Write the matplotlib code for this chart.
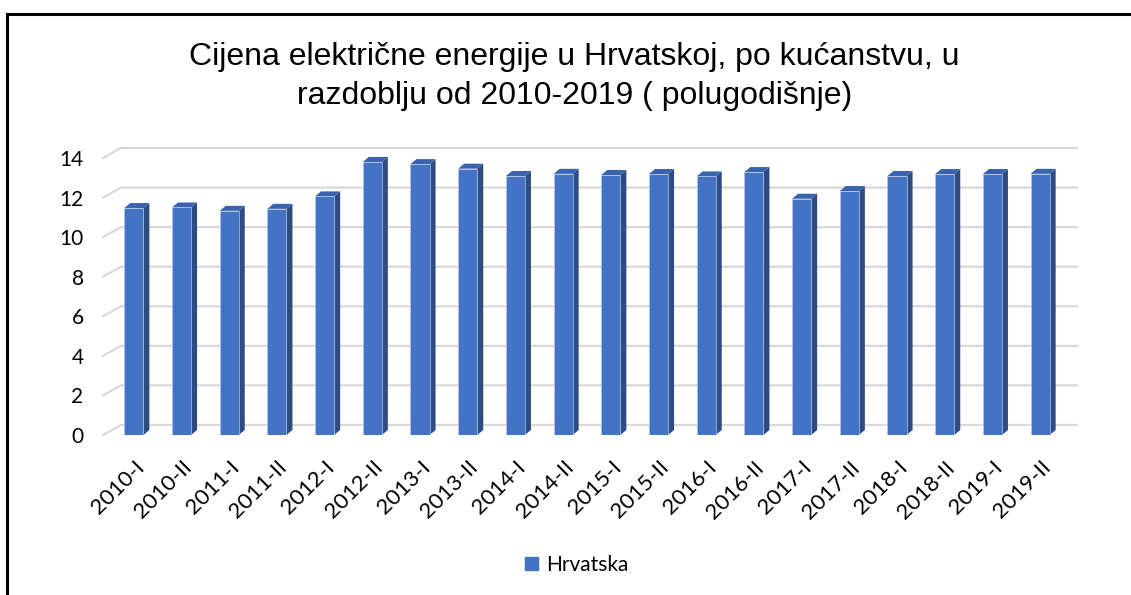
import matplotlib
matplotlib.use('Agg')
import matplotlib.pyplot as plt
from matplotlib.patches import Polygon, Patch
from matplotlib.lines import Line2D

# data (EUR cent / kWh)
periods = ['2010-I', '2010-II', '2011-I', '2011-II', '2012-I', '2012-II',
           '2013-I', '2013-II', '2014-I', '2014-II', '2015-I', '2015-II',
           '2016-I', '2016-II', '2017-I', '2017-II', '2018-I', '2018-II',
           '2019-I', '2019-II']
cijena = [11.47, 11.50, 11.33, 11.43, 12.06, 13.80, 13.69, 13.46, 13.09, 13.20,
          13.14, 13.19, 13.07, 13.29, 11.94, 12.33, 13.09, 13.19, 13.19, 13.20]
yticks = [0, 2, 4, 6, 8, 10, 12, 14]

front = '#4472C4'
side = '#2E4B82'
top = '#3A63AD'
grid = '#D9D9D9'

W, H = 1131, 595
fig = plt.figure(figsize=(W / 100, H / 100), dpi=100)

# plot area in pixels
x0_px, y0_px, y14_px = 103, 435, 158
step_px = 47.7
xmin, xmax = -0.646, 19.4
ax = fig.add_axes([x0_px / W, (H - y0_px) / H,
                   (xmax - xmin) * step_px / W, (y0_px - y14_px) / H])
ax.set_xlim(xmin, xmax)
ax.set_ylim(0, 14)
px_y = 14 / (y0_px - y14_px)

# fake 3D depth (bar and floor/back wall)
bw = 0.4
bdx, bdy = 6 / step_px, 5 * px_y
gdx, gdy = 18 / step_px, 10 * px_y

for t in yticks:
    ax.add_line(Line2D([xmin, xmin + gdx, xmax + gdx], [t, t + gdy, t + gdy],
                       color=grid, lw=1.6, clip_on=False, zorder=1))

x = list(range(len(periods)))
ax.bar(x, cijena, width=bw, color=front, edgecolor='#B4C7E7', linewidth=0.5, zorder=3)
for i, v in zip(x, cijena):
    xl, xr = i - bw / 2, i + bw / 2
    ax.add_patch(Polygon([(xr, 0), (xr, v), (xr + bdx, v + bdy), (xr + bdx, bdy)],
                         closed=True, facecolor=side, edgecolor='none', zorder=2, clip_on=False))
    ax.add_patch(Polygon([(xl, v), (xr, v), (xr + bdx, v + bdy), (xl + bdx, v + bdy)],
                         closed=True, facecolor=top, edgecolor='none', zorder=2, clip_on=False))

for s in ax.spines.values():
    s.set_visible(False)
ax.set_yticks(yticks)
ax.set_yticklabels([str(t) for t in yticks], fontsize=15, family='Lato')
ax.tick_params(axis='y', length=0, pad=14)
ax.set_xticks(x)
ax.set_xticklabels(periods, rotation=45, ha='right', rotation_mode='anchor',
                   fontsize=16, family='Lato')
ax.tick_params(axis='x', length=0, pad=16)

fig.text(0.508, 0.872,
         'Cijena električne energije u Hrvatskoj, po kućanstvu, u\nrazdoblju od 2010-2019 ( polugodišnje)',
         ha='center', va='center', fontsize=23, family='Liberation Sans', linespacing=1.38)

fig.legend(handles=[Patch(color=front, label='Hrvatska')], loc='center',
           bbox_to_anchor=(0.51, (H - 565) / H), frameon=False,
           prop={'family': 'Lato', 'size': 15}, handlelength=0.6, handleheight=0.6,
           handletextpad=0.4)

# chart frame (top and left edges visible)
fig.add_artist(Line2D([7 / W, 1.0], [(H - 14) / H] * 2, color='black', lw=2.2))
fig.add_artist(Line2D([7 / W] * 2, [0, (H - 14) / H], color='black', lw=2.2))

fig.savefig('out.png', dpi=100)
